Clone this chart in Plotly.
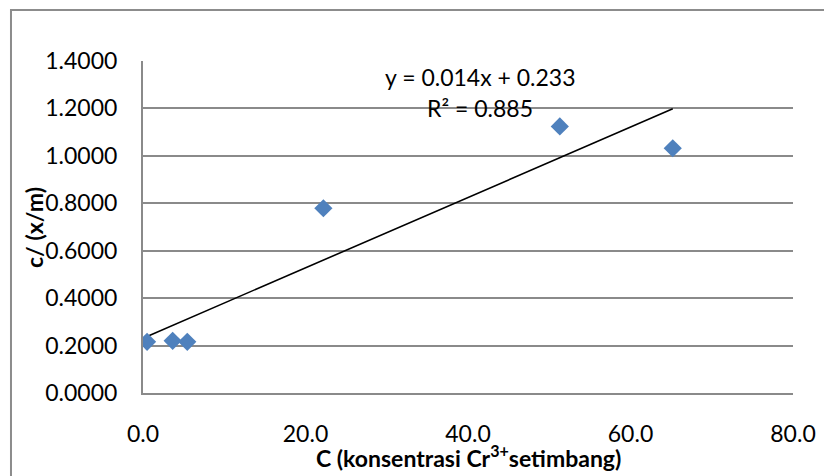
import numpy as np
import plotly.graph_objects as go

# Data
conc_eq = [0.5, 3.65, 5.45, 22.2, 51.3, 65.2]          # C (konsentrasi Cr3+ setimbang)
c_over_xm = [0.216, 0.220, 0.216, 0.779, 1.124, 1.032]  # c/(x/m)

eq_label = "y = 0.014x + 0.233"
r2_label = "R² = 0.885"
x_title = "<b>C (konsentrasi Cr<sup>3+</sup>setimbang)</b>"
y_title = "<b>c/ (x/m)</b>"

x_ticks = [0, 20, 40, 60, 80]
y_ticks = [0, 0.2, 0.4, 0.6, 0.8, 1.0, 1.2, 1.4]

# Linear trendline (least squares), drawn over the data span
slope, intercept = np.polyfit(conc_eq, c_over_xm, 1)
trend_x = [min(conc_eq), max(conc_eq)]
trend_y = [slope * v + intercept for v in trend_x]

FONT = "Lato"
GRID = "#8a8a8a"
FS = 23

fig = go.Figure()
fig.add_trace(go.Scatter(
    x=trend_x, y=trend_y, mode="lines",
    line=dict(color="black", width=1.6),
    showlegend=False, hoverinfo="skip",
))
fig.add_trace(go.Scatter(
    x=conc_eq, y=c_over_xm, mode="markers",
    marker=dict(symbol="diamond", size=14, color="#4f81bd", line=dict(width=0)),
    showlegend=False,
))

fig.add_annotation(x=41.5, y=1.333, xref="x", yref="y", text=eq_label,
                   showarrow=False, font=dict(family=FONT, size=FS, color="black"))
fig.add_annotation(x=41.5, y=1.202, xref="x", yref="y", text=r2_label,
                   showarrow=False, font=dict(family=FONT, size=FS, color="black"))

# axis titles
fig.add_annotation(x=0.5, y=-0.19, xref="paper", yref="paper", text=x_title,
                   showarrow=False, xanchor="center", yanchor="middle",
                   font=dict(family=FONT, size=FS, color="black"))
fig.add_annotation(x=-0.1677, y=0.5, xref="paper", yref="paper", text=y_title,
                   showarrow=False, xanchor="center", yanchor="middle", textangle=-90,
                   font=dict(family=FONT, size=FS, color="black"))

# chart-area border: only left and top edges are inside the cropped view
fig.add_shape(type="path", xref="paper", yref="paper",
              path="M -0.2031,-0.4 L -0.2031,1.1536 L 1.3,1.1536",
              line=dict(color="#8c8c8c", width=2), layer="below")

fig.update_layout(
    width=824, height=476,
    margin=dict(l=143, r=31, t=61, b=83, autoexpand=False),
    paper_bgcolor="white", plot_bgcolor="white",
    font=dict(family=FONT, size=FS, color="black"),
    xaxis=dict(
        range=[0, 80], tickvals=x_ticks, tickformat=".1f",
        showgrid=False, zeroline=False,
        showline=True, linecolor=GRID, linewidth=2,
        ticks="", ticklabelstandoff=19,
        automargin=False,
    ),
    yaxis=dict(
        range=[0, 1.4], tickvals=y_ticks, tickformat=".4f",
        showgrid=True, gridcolor=GRID, gridwidth=2,
        zeroline=False,
        showline=True, linecolor=GRID, linewidth=2,
        ticks="", ticklabelstandoff=19,
        automargin=False,
    ),
)

fig.write_html(
    "out.html",
    config={"displayModeBar": False},
    default_width="824px",
    default_height="476px",
    post_script="document.body.style.margin='0';document.body.style.overflow='hidden';",
)
